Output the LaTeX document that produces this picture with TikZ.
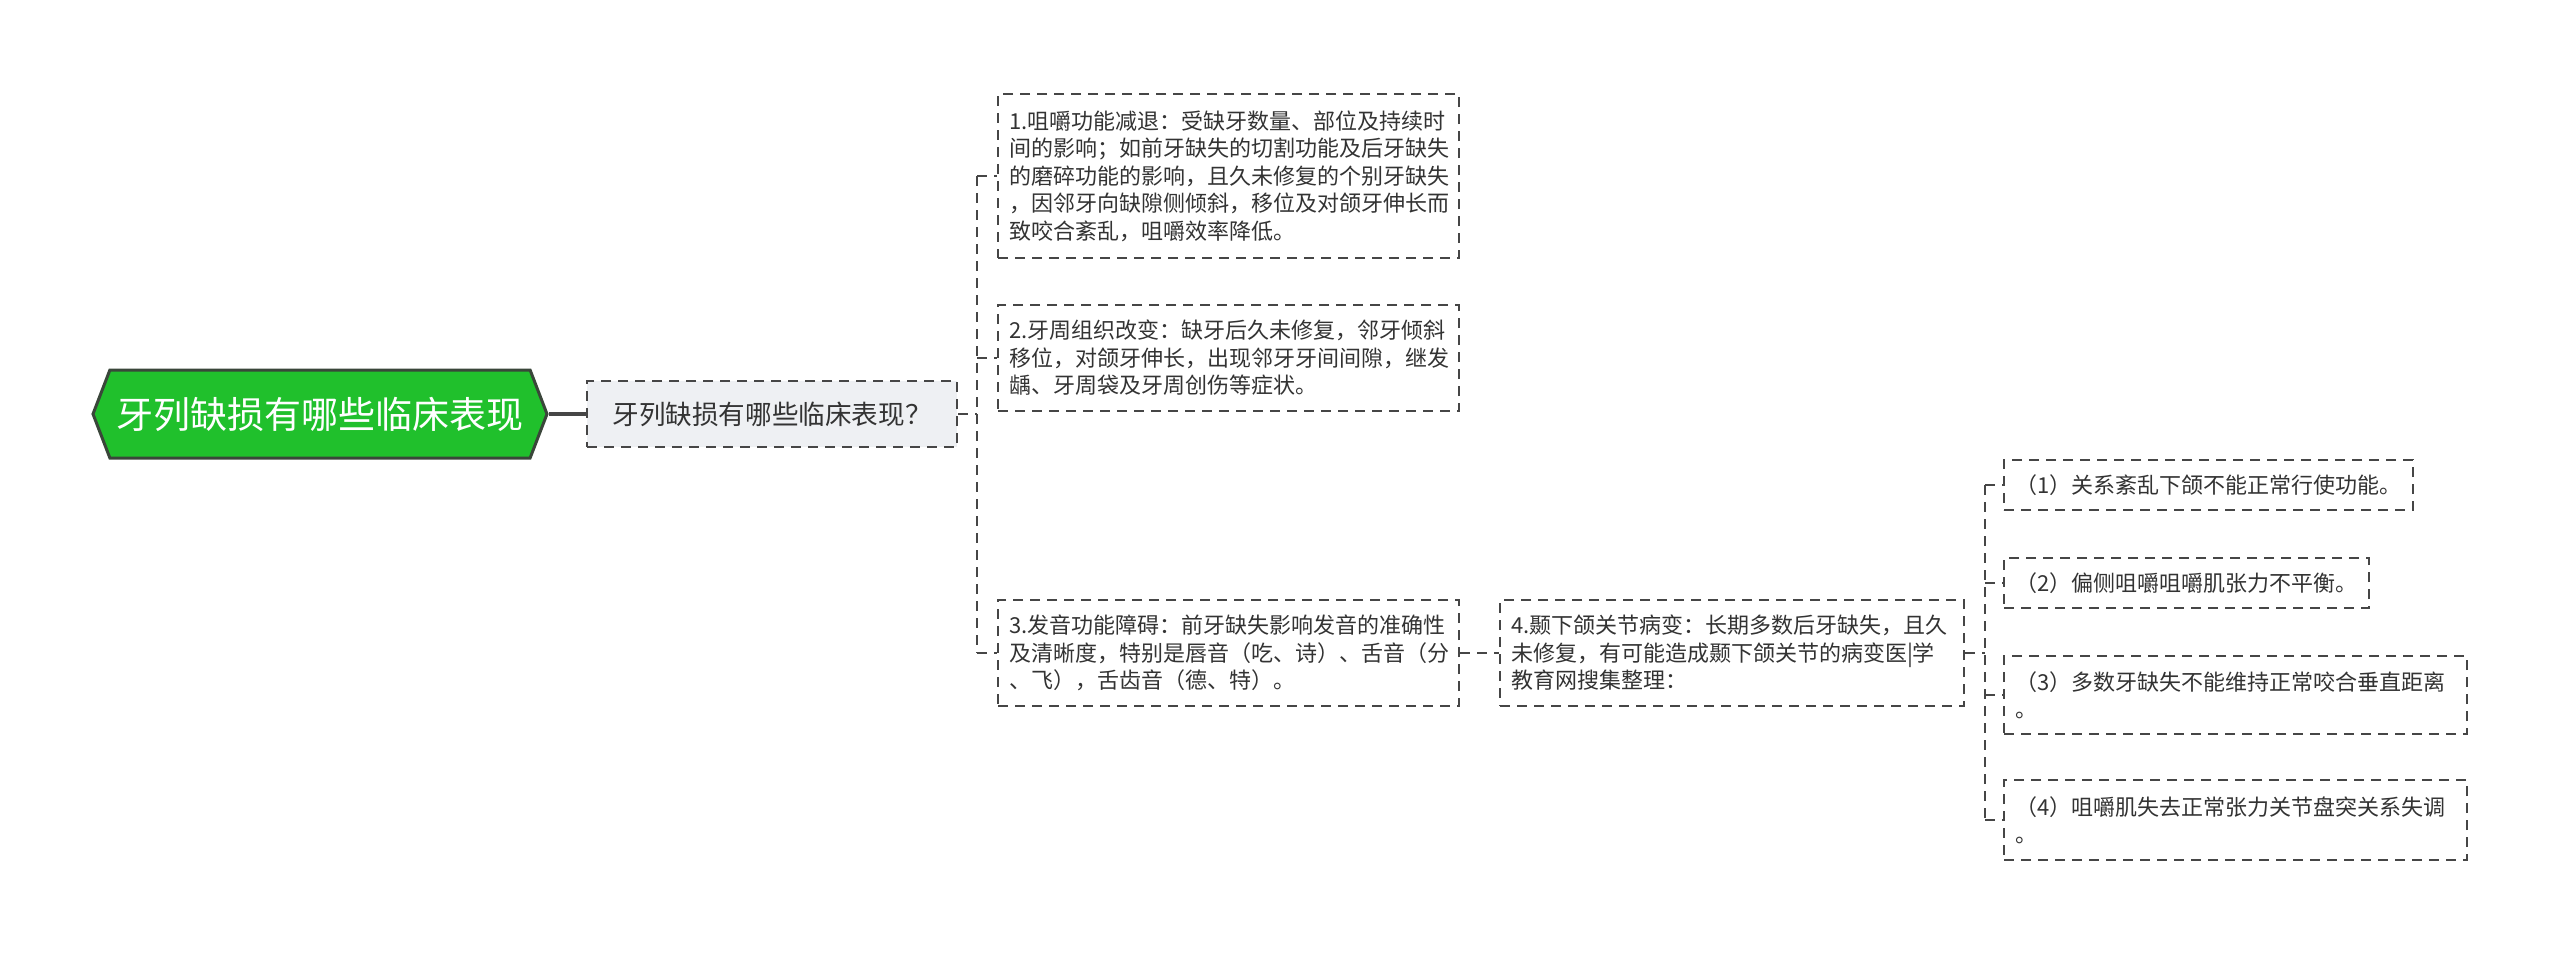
\documentclass[tikz,border=0pt]{standalone}
\usepackage{fontspec}
\usetikzlibrary{shapes.symbols}
\newfontfamily\cjk{Noto Sans CJK SC}
\definecolor{rootgreen}{RGB}{32,192,44}
\definecolor{rootedge}{RGB}{58,70,58}
\definecolor{linegray}{RGB}{70,70,70}
\definecolor{subfill}{RGB}{238,240,243}
\definecolor{textgray}{RGB}{51,51,51}

\begin{document}
\begin{tikzpicture}[x=0.5pt,y=-0.5pt,
  rootnode/.style={shape=signal, signal to=east and west, signal pointer angle=138,
    fill=rootgreen, draw=rootedge, line width=1.5pt, text=white,
    font=\cjk\fontsize{18.5}{22}\selectfont, minimum width=227pt, minimum height=44pt, inner sep=0pt},
  subnode/.style={draw=linegray, line width=1pt, dash pattern=on 5pt off 3.5pt, fill=subfill,
    text=textgray, font=\cjk\fontsize{13.3}{16}\selectfont, minimum width=185pt, minimum height=33pt},
  topic/.style={draw=linegray, line width=1pt, dash pattern=on 5pt off 3.5pt, fill=white,
    text=textgray, font=\cjk\fontsize{11}{13.75}\selectfont, align=left,
    inner xsep=5.5pt, inner ysep=0pt, anchor=north west},
  link/.style={draw=linegray, line width=1pt, dash pattern=on 5pt off 3.5pt},
  trunk/.style={draw=linegray, line width=2pt}]
\useasboundingbox (0,0) rectangle (2560,953);

% main topic and question
\node[rootnode] (root) at (320,414) {牙列缺损有哪些临床表现};
\node[subnode] (sub) at (772,414) {牙列缺损有哪些临床表现？};

% first level
\node[topic, text width=219.5pt, minimum height=82pt] (n1) at (997,93)
  {1.咀嚼功能减退：受缺牙数量、部位及持续时\\间的影响；如前牙缺失的切割功能及后牙缺失\\的磨碎功能的影响，且久未修复的个别牙缺失\\，因邻牙向缺隙侧倾斜，移位及对颌牙伸长而\\致咬合紊乱，咀嚼效率降低。};
\node[topic, text width=219.5pt, minimum height=53pt] (n2) at (997,304)
  {2.牙周组织改变：缺牙后久未修复，邻牙倾斜\\移位，对颌牙伸长，出现邻牙牙间间隙，继发\\龋、牙周袋及牙周创伤等症状。};
\node[topic, text width=219.5pt, minimum height=53pt] (n3) at (997,599)
  {3.发音功能障碍：前牙缺失影响发音的准确性\\及清晰度，特别是唇音（吃、诗）、舌音（分\\、飞），舌齿音（德、特）。};
\node[topic, text width=221pt, minimum height=53pt] (n4) at (1499,599)
  {4.颞下颌关节病变：长期多数后牙缺失，且久\\未修复，有可能造成颞下颌关节的病变医|学\\教育网搜集整理：};

% second level
\node[topic, text width=193.5pt, minimum height=25pt] (c1) at (2003,459)
  {（1）关系紊乱下颌不能正常行使功能。};
\node[topic, text width=171.5pt, minimum height=25pt] (c2) at (2003,557)
  {（2）偏侧咀嚼咀嚼肌张力不平衡。};
\node[topic, text width=220.5pt, minimum height=39pt] (c3) at (2003,655)
  {（3）多数牙缺失不能维持正常咬合垂直距离\\。};
\node[topic, text width=220.5pt, minimum height=40pt] (c4) at (2003,779)
  {（4）咀嚼肌失去正常张力关节盘突关系失调\\。};

% connectors
\draw[trunk] (root.east) -- (sub.west);
\draw[link] (sub.east) -- ++(19,0) coordinate (j1);
\draw[link] (j1 |- n1.west) -- (j1 |- n3.west);
\foreach \t in {n1,n2,n3}
  \draw[link] (j1 |- \t.west) -- (\t.west);
\draw[link] (n3.east) -- (n4.west);
\draw[link] (n4.east) -- ++(20,0) coordinate (j2);
\draw[link] (j2 |- c1.west) -- (j2 |- c4.west);
\foreach \t in {c1,c2,c3,c4}
  \draw[link] (j2 |- \t.west) -- (\t.west);
\end{tikzpicture}
\end{document}
